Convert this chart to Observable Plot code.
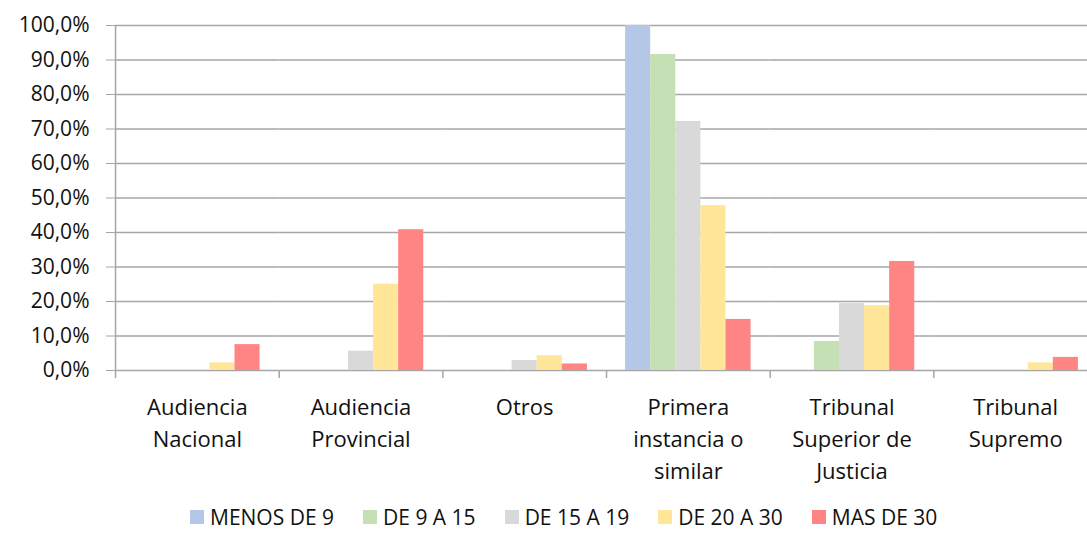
<!DOCTYPE html>
<html><head><meta charset="utf-8">
<script src="https://cdn.jsdelivr.net/npm/d3@7"></script>
<script src="https://cdn.jsdelivr.net/npm/@observablehq/plot@0.6"></script>
<style>
html,body{margin:0;padding:0;background:#fff;overflow:hidden;width:1087px;height:533px;position:relative}
#chart{position:absolute;left:0;top:0;width:1097px}
#chart svg{max-width:none !important}
#legend{position:absolute;left:190px;top:506px;display:flex;align-items:center;font-family:"Open Sans";font-size:21px;line-height:22px;color:#111;height:22px;white-space:nowrap}
.item{display:flex;align-items:center;margin-right:29px}
.sw{width:14px;height:14px;margin-right:6px}
</style></head><body>
<div id="chart"></div><div id="legend"></div>
<script>
const categories = ["Audiencia Nacional","Audiencia Provincial","Otros","Primera instancia o similar","Tribunal Superior de Justicia","Tribunal Supremo"];
const categoryLabels = ["Audiencia\nNacional","Audiencia\nProvincial","Otros","Primera\ninstancia o\nsimilar","Tribunal\nSuperior de\nJusticia","Tribunal\nSupremo"];
const seriesNames = ["MENOS DE 9","DE 9 A 15","DE 15 A 19","DE 20 A 30","MAS DE 30"];
const menosDe9 = [0,0,0,100,0,0];
const de9a15 = [0,0,0,91.6,8.4,0];
const de15a19 = [0,5.6,2.9,72.2,19.4,0];
const de20a30 = [2.2,25.0,4.3,47.8,18.8,2.2];
const masDe30 = [7.5,40.8,1.9,14.8,31.6,3.8];
const yTicks = [0,10,20,30,40,50,60,70,80,90,100];
const colors = ["#b4c7e7","#c5e0b4","#d9d9d9","#ffe699","#ff8585"];

const seriesValues = [menosDe9, de9a15, de15a19, de20a30, masDe30];
const table = [];
categories.forEach((c, i) => seriesNames.forEach((s, j) => table.push({category: c, series: s, value: seriesValues[j][i]})));
const boundaries = categories.map((c, i) => ({category: c, top: i === 0 ? 100 : 0}));
const gridColor = "#a6a6a6";

const chart = Plot.plot({
  width: 1097, height: 500,
  marginLeft: 115, marginRight: 0, marginTop: 25, marginBottom: 130,
  style: {fontFamily: "Open Sans", color: "#111", background: "transparent", maxWidth: "none"},
  fx: {domain: categories, padding: 0, round: false, label: null},
  x: {domain: seriesNames, paddingInner: 0, paddingOuter: 0.76, round: false, axis: null},
  y: {domain: [0, 100], label: null},
  color: {domain: seriesNames, range: colors},
  marks: [
    Plot.ruleY(yTicks, {stroke: gridColor, strokeWidth: 1.5}),
    Plot.barY(table, {fx: "category", x: "series", y: "value", fill: "series"}),
    Plot.ruleX(boundaries, {fx: "category", x: () => seriesNames[0], y1: "top", y2: 0, insetBottom: -8, dx: -31.6, stroke: gridColor, strokeWidth: 1.5}),
    Plot.axisY({ticks: yTicks, tickFormat: d => d.toFixed(1).replace(".", ",") + "%", tickSize: 9, tickPadding: 17, fontSize: 21, stroke: gridColor, label: null}),
    Plot.axisFx({anchor: "bottom", tickSize: 0, tickPadding: 22, fontSize: 22, lineHeight: 1.45, tickFormat: d => categoryLabels[categories.indexOf(d)], label: null})
  ]
});
document.getElementById("chart").appendChild(chart);

const legend = document.getElementById("legend");
seriesNames.forEach((s, j) => {
  const item = document.createElement("div");
  item.className = "item";
  const sw = document.createElement("div");
  sw.className = "sw";
  sw.style.background = colors[j];
  const label = document.createElement("span");
  label.textContent = s;
  item.appendChild(sw); item.appendChild(label);
  legend.appendChild(item);
});
</script>
</body></html>
